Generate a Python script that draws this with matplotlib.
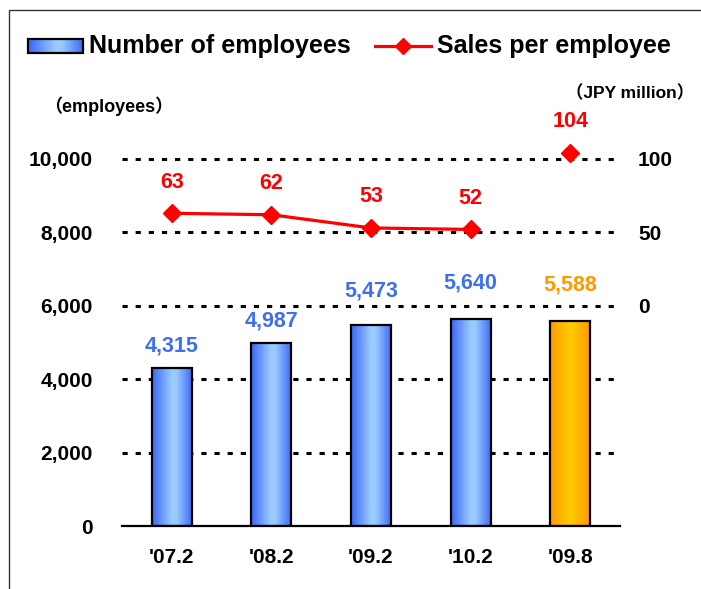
import matplotlib
matplotlib.use("Agg")
import numpy as np
import matplotlib.pyplot as plt
from matplotlib.colors import LinearSegmentedColormap
from matplotlib.patches import Rectangle

# ---------------- data ----------------
categories = ["'07.2", "'08.2", "'09.2", "'10.2", "'09.8"]
employees = [4315, 4987, 5473, 5640, 5588]
sales_per_employee = [63, 62, 53, 52, 104]
left_ticks = [0, 2000, 4000, 6000, 8000, 10000]
right_ticks = [0, 50, 100]

# ---------------- styling ----------------
plt.rcParams['font.family'] = ['Liberation Sans', 'Noto Sans CJK JP', 'DejaVu Sans']
plt.rcParams['font.weight'] = 'bold'

blue_cmap = LinearSegmentedColormap.from_list(
    'blue', [(0, '#3A66F6'), (0.5, '#9BCBFF'), (0.62, '#99C9FF'), (1, '#3D6CF6')])
orange_cmap = LinearSegmentedColormap.from_list(
    'orange', [(0, '#FF9A00'), (0.5, '#FFCC00'), (1, '#FF9A00')])
bar_cmaps = [blue_cmap] * 4 + [orange_cmap]
bar_label_colors = ['#3D6FF5'] * 4 + ['#FF9900']
bar_label_offsets = [15.8, 15.5, 24.5, 26, 26]  # points
RED = '#FF0000'

# right axis: 0 aligned with 6000 employees, 100 with 10000
right_zero = 6000
right_scale = 40
ytop = 10500

fig = plt.figure(figsize=(7.01, 5.89), dpi=100)
W, H = 701, 589
ax = fig.add_axes([122 / W, 63 / H, 498 / W, (526 - 140.6) / H])
x = np.arange(len(categories))
ax.set_xlim(-0.5, len(categories) - 0.5)
ax.set_ylim(0, ytop)

bars = ax.bar(x, employees, width=0.4, facecolor='none', edgecolor='black',
              linewidth=1.6, zorder=3)
grad = np.linspace(0, 1, 256)[None, :]
for b, cm in zip(bars, bar_cmaps):
    x0, y0 = b.get_x(), b.get_y()
    im = ax.imshow(cm(grad), extent=[x0, x0 + b.get_width(), y0, y0 + b.get_height()],
                   aspect='auto', zorder=2, interpolation='bilinear')
    im.set_clip_path(b)
ax.set_xlim(-0.5, len(categories) - 0.5)
ax.set_ylim(0, ytop)

for xi, v, c, off in zip(x, employees, bar_label_colors, bar_label_offsets):
    ax.annotate(f"{v:,}", (xi, v), xytext=(0, off), textcoords='offset points',
                ha='center', va='center', color=c, fontsize=15.5, fontweight='bold')

ax.set_axisbelow(True)
ax.yaxis.grid(True, color='black', linestyle=(0, (1.7, 2.6)), linewidth=2.2, zorder=0)
for s in ['left', 'top', 'right']:
    ax.spines[s].set_visible(False)
ax.spines['bottom'].set_linewidth(1.6)
ax.spines['bottom'].set_zorder(4)
ax.set_yticks(left_ticks, labels=[f"{v:,}" for v in left_ticks])
ax.set_xticks(x, labels=categories)
ax.tick_params(axis='y', length=0, pad=21, labelsize=15)
ax.tick_params(axis='x', length=0, pad=16, labelsize=15)

ax2 = ax.twinx()
ax2.set_ylim((0 - right_zero) / right_scale, (ytop - right_zero) / right_scale)
for s in ax2.spines.values():
    s.set_visible(False)
ax2.set_yticks(right_ticks)
ax2.tick_params(axis='y', length=0, pad=13, labelsize=15)
ax2.plot(x[:4], sales_per_employee[:4], color=RED, linewidth=2.3, marker='D',
         markersize=9.5, zorder=5)
ax2.plot(x[4:], sales_per_employee[4:], color=RED, linewidth=0, marker='D',
         markersize=9.5, zorder=5)
for xi, v in zip(x, sales_per_employee):
    ax2.annotate(f"{v}", (xi, v), xytext=(0, 22.5), textcoords='offset points',
                 ha='center', va='center', color=RED, fontsize=15.5, fontweight='bold')

# ---------------- overlay: frame, legend, unit labels ----------------
ov = fig.add_axes([0, 0, 1, 1], zorder=10)
ov.set_xlim(0, W)
ov.set_ylim(H, 0)
ov.axis('off')
ov.patch.set_visible(False)
ov.add_patch(Rectangle((9, 10), W, H, fill=False, edgecolor='#333333', linewidth=1.0))

ov.imshow(blue_cmap(grad), extent=[28, 83, 53, 39], aspect='auto', interpolation='bilinear')
ov.add_patch(Rectangle((28, 39), 55, 14, fill=False, edgecolor='black', linewidth=1.6))
ov.set_xlim(0, W)
ov.set_ylim(H, 0)
ov.text(89, 46.5, "Number of employees", ha='left', va='center', fontsize=18,
        fontweight='bold', color='black')
ov.plot([375, 431], [46, 46], color=RED, linewidth=2.3)
ov.plot([403], [46], color=RED, marker='D', markersize=8.5)
ov.text(437, 46.5, "Sales per employee", ha='left', va='center', fontsize=18,
        fontweight='bold', color='black')

ov.text(109, 106, "（employees）", ha='center', va='center', fontsize=13,
        fontweight='bold', color='black')
ov.text(630, 93, "（JPY million）", ha='center', va='center', fontsize=12.5,
        fontweight='bold', color='black')

fig.savefig("out.png", dpi=100)
